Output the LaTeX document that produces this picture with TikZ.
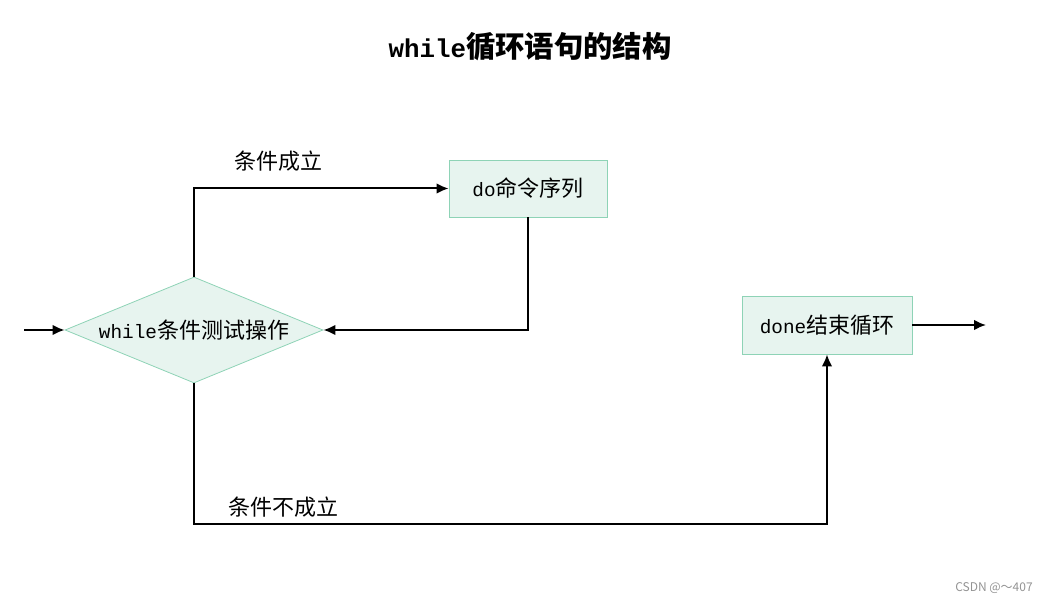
\documentclass[tikz,border=0pt]{standalone}
\usepackage{fontspec}
\setmainfont{Liberation Mono}[Scale=0.88]
\newfontfamily\cjk{Noto Sans CJK SC}
\newfontfamily\wmfont{Noto Sans CJK SC}
\usepackage{tikz}
\usetikzlibrary{shapes.geometric,arrows,arrows.meta,positioning}
\definecolor{lightgreen}{HTML}{E7F4EF}
\definecolor{bordergreen}{HTML}{8ED3B6}

\tikzset{
  stepbox/.style={draw=bordergreen, fill=lightgreen, line width=0.6pt, inner sep=0pt,
    font=\fontsize{16.5}{18}\selectfont},
  testbox/.style={stepbox, shape=diamond, aspect=2.43, minimum width=193.5pt, minimum height=79.5pt},
  flow/.style={line width=1.5pt, -{Latex[length=9pt,width=8pt]}},
  lbl/.style={font=\fontsize{16.5}{18}\selectfont\cjk}
}

\begin{document}
\begin{tikzpicture}[x=0.75pt,y=-0.75pt]
            \useasboundingbox (0,0) rectangle (1047,602);
            \node (title) at (530,47) {\fontsize{22}{24}\selectfont\bfseries while\cjk 循环语句的结构};
            \node[testbox] (test) at (194,330) {while\cjk 条件测试操作};
            \node[stepbox, minimum width=118.5pt, minimum height=42.75pt] (do) at (528,188.5) {do\cjk 命令序列};
            \node[stepbox, minimum width=127.5pt, minimum height=43.5pt] (done) at (827,325) {done\cjk 结束循环};
            \coordinate (in) at (24,330);
            \coordinate (out) at (986,325);
            \coordinate (low) at (194,524);
            \draw [flow] (in) -- (test.west);
            \draw [flow] (test.north) |- (do.west);
            \node[lbl] (yes) at (278,161) {条件成立};
            \draw [flow] (do.south) |- (test.east);
            \draw [flow] (test.south) -- (low) -| (done.south);
            \node[lbl] (no) at (283,507) {条件不成立};
            \draw [flow] (done.east) -- (out);
            \node[text=gray!85, font=\fontsize{9}{10}\selectfont\wmfont] (csdn) at (994,588) {CSDN @～407};
        \end{tikzpicture}
\end{document}
